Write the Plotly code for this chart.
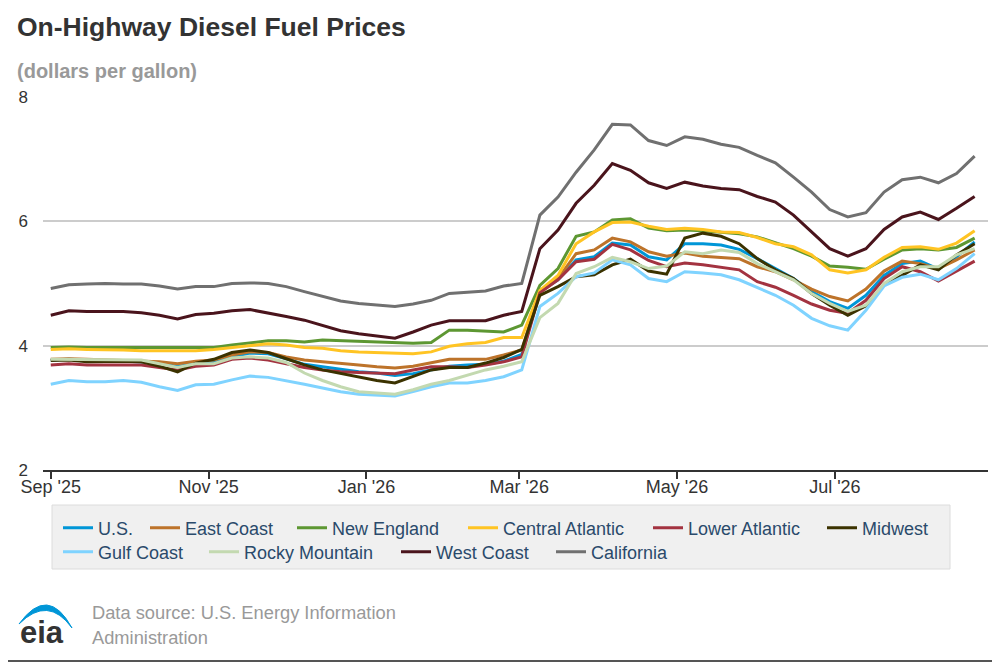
import pandas as pd
import plotly.graph_objects as go

# ---------------- data ----------------
dates = pd.date_range("2025-09-01", periods=52, freq="7D")

series_names = ["U.S.", "East Coast", "New England", "Central Atlantic", "Lower Atlantic",
                "Midwest", "Gulf Coast", "Rocky Mountain", "West Coast", "California"]

us = [3.77, 3.78, 3.77, 3.76, 3.76, 3.75, 3.73, 3.66, 3.72, 3.74, 3.82, 3.88, 3.87, 3.79,
      3.70, 3.66, 3.62, 3.58, 3.56, 3.52, 3.55, 3.61, 3.67, 3.69, 3.70, 3.75, 3.86,
      4.87, 5.06, 5.38, 5.43, 5.65, 5.62, 5.43, 5.38, 5.64, 5.64, 5.62, 5.55, 5.40, 5.24,
      5.08, 4.87, 4.71, 4.60, 4.81, 5.13, 5.32, 5.36, 5.23, 5.43, 5.67]
east_coast = [3.78, 3.79, 3.78, 3.77, 3.77, 3.76, 3.74, 3.71, 3.75, 3.77, 3.85, 3.90, 3.89, 3.82,
              3.77, 3.74, 3.72, 3.69, 3.66, 3.64, 3.67, 3.72, 3.78, 3.78, 3.78, 3.85, 3.93,
              4.87, 5.08, 5.48, 5.54, 5.73, 5.67, 5.51, 5.44, 5.49, 5.44, 5.42, 5.40, 5.27, 5.19,
              5.06, 4.91, 4.79, 4.72, 4.91, 5.20, 5.36, 5.32, 5.24, 5.38, 5.54]
new_england = [3.97, 3.98, 3.97, 3.97, 3.97, 3.97, 3.97, 3.96, 3.96, 3.97, 4.01, 4.05, 4.08, 4.08,
               4.06, 4.09, 4.08, 4.06, 4.05, 4.04, 4.04, 4.05, 4.25, 4.25, 4.24, 4.22, 4.33,
               4.97, 5.24, 5.76, 5.83, 6.02, 6.04, 5.89, 5.85, 5.86, 5.85, 5.82, 5.80, 5.75, 5.65,
               5.56, 5.44, 5.28, 5.26, 5.23, 5.39, 5.54, 5.56, 5.54, 5.58, 5.73]
central_atlantic = [3.94, 3.95, 3.94, 3.94, 3.93, 3.92, 3.92, 3.91, 3.92, 3.94, 3.97, 4.01, 4.03, 4.01,
                    3.97, 3.96, 3.92, 3.90, 3.89, 3.88, 3.87, 3.90, 3.99, 4.03, 4.05, 4.13, 4.13,
                    4.89, 5.13, 5.64, 5.83, 5.98, 5.99, 5.92, 5.87, 5.89, 5.87, 5.83, 5.82, 5.74, 5.64,
                    5.59, 5.46, 5.22, 5.17, 5.22, 5.42, 5.58, 5.59, 5.55, 5.65, 5.85]
lower_atlantic = [3.69, 3.71, 3.69, 3.69, 3.69, 3.69, 3.65, 3.61, 3.67, 3.69, 3.78, 3.80, 3.77, 3.71,
                  3.65, 3.61, 3.58, 3.57, 3.56, 3.55, 3.61, 3.66, 3.66, 3.65, 3.69, 3.74, 3.82,
                  4.85, 5.06, 5.35, 5.39, 5.63, 5.54, 5.37, 5.27, 5.33, 5.30, 5.26, 5.22, 5.03, 4.94,
                  4.81, 4.67, 4.57, 4.52, 4.73, 5.08, 5.27, 5.19, 5.04, 5.20, 5.36]
midwest = [3.76, 3.77, 3.74, 3.75, 3.75, 3.74, 3.67, 3.58, 3.72, 3.78, 3.89, 3.93, 3.89, 3.79,
           3.69, 3.61, 3.55, 3.49, 3.44, 3.40, 3.50, 3.61, 3.65, 3.65, 3.72, 3.81, 3.94,
           4.81, 4.95, 5.11, 5.14, 5.30, 5.39, 5.20, 5.15, 5.73, 5.81, 5.76, 5.64, 5.40, 5.22,
           5.08, 4.84, 4.65, 4.49, 4.64, 4.98, 5.13, 5.30, 5.22, 5.46, 5.64]
gulf_coast = [3.38, 3.44, 3.42, 3.42, 3.44, 3.41, 3.34, 3.28, 3.37, 3.38, 3.45, 3.51, 3.49, 3.44,
              3.38, 3.32, 3.26, 3.22, 3.21, 3.19, 3.26, 3.34, 3.40, 3.40, 3.44, 3.50, 3.61,
              4.63, 4.84, 5.11, 5.17, 5.38, 5.30, 5.08, 5.03, 5.19, 5.17, 5.14, 5.06, 4.94, 4.81,
              4.65, 4.44, 4.32, 4.25, 4.57, 4.96, 5.10, 5.15, 5.06, 5.24, 5.48]
rocky_mountain = [3.78, 3.78, 3.77, 3.78, 3.78, 3.77, 3.71, 3.65, 3.71, 3.71, 3.80, 3.82, 3.80, 3.73,
                  3.56, 3.44, 3.34, 3.26, 3.24, 3.22, 3.29, 3.38, 3.44, 3.53, 3.61, 3.67, 3.74,
                  4.45, 4.68, 5.16, 5.27, 5.42, 5.35, 5.24, 5.28, 5.51, 5.48, 5.54, 5.50, 5.32, 5.19,
                  5.06, 4.84, 4.68, 4.55, 4.65, 5.00, 5.19, 5.27, 5.27, 5.46, 5.56]
west_coast = [4.49, 4.56, 4.55, 4.55, 4.55, 4.53, 4.49, 4.43, 4.50, 4.52, 4.56, 4.58, 4.53, 4.47,
              4.41, 4.33, 4.24, 4.19, 4.16, 4.12, 4.22, 4.33, 4.40, 4.40, 4.40, 4.49, 4.55,
              5.56, 5.86, 6.29, 6.58, 6.93, 6.82, 6.62, 6.53, 6.63, 6.57, 6.53, 6.51, 6.40, 6.31,
              6.10, 5.83, 5.56, 5.44, 5.56, 5.87, 6.07, 6.15, 6.03, 6.21, 6.40]
california = [4.92, 4.98, 4.99, 5.00, 4.99, 4.99, 4.96, 4.91, 4.95, 4.95, 5.00, 5.01, 5.00, 4.95,
              4.87, 4.79, 4.72, 4.68, 4.66, 4.63, 4.67, 4.73, 4.84, 4.86, 4.88, 4.96, 5.00,
              6.10, 6.39, 6.79, 7.15, 7.56, 7.55, 7.30, 7.22, 7.36, 7.32, 7.24, 7.19, 7.06, 6.94,
              6.71, 6.47, 6.19, 6.07, 6.14, 6.47, 6.67, 6.71, 6.62, 6.77, 7.05]

series_values = [us, east_coast, new_england, central_atlantic, lower_atlantic,
                 midwest, gulf_coast, rocky_mountain, west_coast, california]

y_tick_values = [2, 4, 6, 8]

# ---------------- styles ----------------
colors = ["#0096d7", "#bd732a", "#5d9732", "#ffc423", "#a33340",
          "#3b3200", "#7fd3ff", "#c3d9b0", "#4a141c", "#707070"]

FONT = "Liberation Sans, Arial, sans-serif"

# the page body has an 8px default margin; design in screen pixels and compensate
OFF = 8
W, H = 1000 - OFF, 663 - OFF
# plot area in screen pixels
SL, SR, ST, SB = 43, 988, 97, 470
L, R, T, B = SL - OFF, SR - OFF, ST - OFF, SB - OFF


def pxx(x):
    """screen pixel x -> paper x"""
    return (x - SL) / (SR - SL)


def pxy(y):
    """screen pixel y -> paper y"""
    return (SB - y) / (SB - ST)


fig = go.Figure()

# legend item positions (screen pixel x of symbol start, y of row center)
legend_pos = [(64, 528), (151, 528), (298, 528), (469, 528), (654, 528), (828, 528),
              (64, 552), (210, 552), (402, 552), (557, 552)]

for i, (name, vals, col) in enumerate(zip(series_names, series_values, colors)):
    key = "legend" if i == 0 else f"legend{i + 1}"
    fig.add_trace(go.Scatter(x=dates, y=vals, mode="lines", name=name,
                             line=dict(color=col, width=3), legend=key))

layout_legends = {}
for i, (lx, ly) in enumerate(legend_pos):
    key = "legend" if i == 0 else f"legend{i + 1}"
    layout_legends[key] = dict(
        x=pxx(lx - 6), y=pxy(ly), xanchor="left", yanchor="middle",
        orientation="h", bgcolor="rgba(0,0,0,0)", borderwidth=0,
        font=dict(family=FONT, size=18, color="#2a4a6b"),
        itemclick=False, itemdoubleclick=False,
    )

fig.update_layout(
    width=W, height=H,
    margin=dict(l=L, r=W - R, t=T, b=H - B),
    paper_bgcolor="white", plot_bgcolor="white",
    showlegend=True,
    font=dict(family=FONT, color="#333333"),
    xaxis=dict(
        type="date", range=["2025-08-29", "2026-08-29 04:00"],
        tick0="2025-09-01", dtick="M2", tickformat="%b '%y",
        showgrid=False, zeroline=False,
        showline=True, linecolor="#333333", linewidth=2,
        ticks="outside", ticklen=7, tickwidth=1.5, tickcolor="#333333",
        ticklabelstandoff=-8,
        tickfont=dict(family=FONT, size=18, color="#333333"),
        fixedrange=True,
    ),
    yaxis=dict(
        range=[2, 8], tickvals=y_tick_values,
        showgrid=True, gridcolor="#cccccc", gridwidth=1.5,
        zeroline=False, showline=False, ticks="",
        ticklabelstandoff=14,
        tickfont=dict(family=FONT, size=17, color="#333333"),
        fixedrange=True,
    ),
    **layout_legends,
)

# legend background box
fig.add_shape(type="rect", xref="paper", yref="paper",
              x0=pxx(52), x1=pxx(950), y0=pxy(505), y1=pxy(569),
              fillcolor="#f0f0f0", line=dict(color="#dcdcdc", width=1), layer="below")

# bottom border line
fig.add_shape(type="line", xref="paper", yref="paper",
              x0=pxx(0), x1=pxx(1000), y0=pxy(661), y1=pxy(661),
              line=dict(color="#555555", width=2))


# eia logo swoosh
def P(x, y):
    return f"{pxx(x):.5f},{pxy(y):.5f}"


swoosh = (f"M {P(19, 624)} Q {P(48, 584)} {P(72, 628)} "
          f"Q {P(48, 595)} {P(19, 624)} Z")
fig.add_shape(type="path", xref="paper", yref="paper", path=swoosh,
              fillcolor="#0096d7", line=dict(color="#0096d7", width=1))

# texts
fig.add_annotation(xref="paper", yref="paper", x=pxx(15), y=pxy(27),
                   xanchor="left", yanchor="middle", showarrow=False,
                   text="<b>On-Highway Diesel Fuel Prices</b>",
                   font=dict(family=FONT, size=26.5, color="#333333"))
fig.add_annotation(xref="paper", yref="paper", x=pxx(15), y=pxy(71),
                   xanchor="left", yanchor="middle", showarrow=False,
                   text="<b>(dollars per gallon)</b>",
                   font=dict(family=FONT, size=20, color="#999999"))
fig.add_annotation(xref="paper", yref="paper", x=pxx(42), y=pxy(632),
                   xanchor="center", yanchor="middle", showarrow=False,
                   text="<b>eia</b>", font=dict(family=FONT, size=31, color="#333333"))
fig.add_annotation(xref="paper", yref="paper", x=pxx(90), y=pxy(612),
                   xanchor="left", yanchor="middle", showarrow=False,
                   text="Data source: U.S. Energy Information",
                   font=dict(family=FONT, size=18.3, color="#999999"))
fig.add_annotation(xref="paper", yref="paper", x=pxx(90), y=pxy(637),
                   xanchor="left", yanchor="middle", showarrow=False,
                   text="Administration",
                   font=dict(family=FONT, size=18.3, color="#999999"))

fig.write_html("out.html")
